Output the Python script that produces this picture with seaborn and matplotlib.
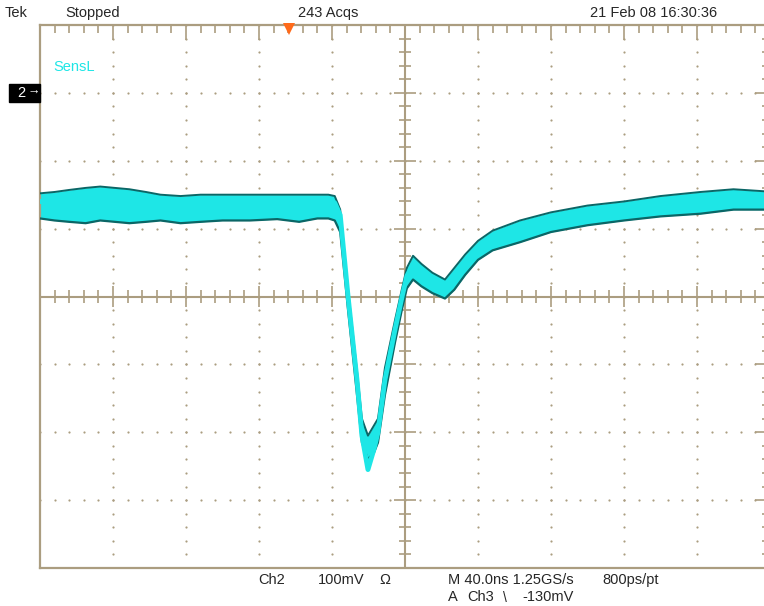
import numpy as np
import pandas as pd
import seaborn as sns
import matplotlib.pyplot as plt
from matplotlib.patches import Rectangle

## DATA (time in ns, Ch2 in mV)
time_ns = [0, 8, 16, 25, 33, 41, 49, 58, 66, 77, 88, 100, 115, 130, 142, 152, 158, 161.5,
           164.5, 168.8, 173.7, 176.4, 179.7, 183, 185.2, 189, 194.5, 198.4, 201, 204.4,
           209, 215, 221.9, 227, 233, 240, 248, 263, 280, 300, 320, 340, 362, 380, 397]
cyan_mid = [-160, -163, -158, -161, -157, -160, -159, -162, -160, -162, -160, -158, -160, -158,
            -161, -158, -160, -162, -180, -300, -423, -505, -555, -525, -500, -423, -349, -300,
            -270, -252, -262, -275, -286, -270, -250, -228, -213, -198, -184, -174, -167, -162,
            -158, -155, -155]
teal_hi = [-148, -146, -143, -140, -138, -140, -142, -146, -150, -152, -150, -150, -150, -150,
           -150, -150, -150, -152, -172, -290, -410, -480, -505, -490, -480, -405, -335, -288,
           -258, -240, -252, -265, -275, -258, -238, -218, -203, -188, -176, -166, -160, -152,
           -146, -142, -145]
teal_lo = [-185, -188, -190, -192, -188, -190, -192, -190, -188, -192, -190, -188, -188, -186,
           -190, -185, -185, -188, -205, -320, -445, -515, -540, -530, -515, -445, -368, -318,
           -288, -275, -285, -295, -303, -290, -268, -246, -232, -220, -205, -195, -188, -182,
           -178, -172, -172]

trigger_ns = 136.4

df = pd.DataFrame({"t": time_ns, "mid": cyan_mid, "hi": teal_hi, "lo": teal_lo})

## STYLE
sns.set_style("white")
plt.rcParams["font.family"] = ["Liberation Sans", "DejaVu Sans"]

TAN = "#ab9d80"
CYAN = "#1ee6e6"
TEAL = "#0b6666"
W, H = 764, 606

fig = plt.figure(figsize=(W / 100, H / 100), dpi=100)
ax = fig.add_axes([40 / W, 38 / H, 730 / W, 543 / H])
ax.set_xlim(0, 400)
ax.set_ylim(-700, 100)

# graticule dots
for gx in range(40, 400, 40):
    if gx == 200:
        continue
    ys = np.arange(-700, 101, 20)
    ax.scatter(np.full(len(ys), gx), ys, s=2.5, color=TAN, linewidths=0, zorder=1)
for gy in range(-600, 100, 100):
    if gy == -300:
        continue
    xs = np.arange(0, 401, 8)
    ax.scatter(xs, np.full(len(xs), gy), s=2.5, color=TAN, linewidths=0, zorder=1)

# center cross with ticks
ax.axvline(200, color=TAN, lw=1.5, zorder=1)
ax.axhline(-300, color=TAN, lw=1.5, zorder=1)
for yy in range(-700, 101, 20):
    half = 6 if yy % 100 == 0 else 3.3
    ax.hlines(yy, 200 - half, 200 + half, color=TAN, lw=1.2, zorder=1)
for xx in range(0, 401, 8):
    half = 16 if xx % 40 == 0 else 9
    ax.vlines(xx, -300 - half, -300 + half, color=TAN, lw=1.2, zorder=1)

# border ticks
ax.set_xticks(range(0, 401, 40))
ax.set_xticks(range(0, 401, 8), minor=True)
ax.set_yticks(range(-700, 101, 100))
ax.set_yticks(range(-700, 101, 20), minor=True)
ax.tick_params(which="major", direction="in", length=10.5, width=1.2, color=TAN,
               top=True, right=True, labelbottom=False, labelleft=False)
ax.tick_params(which="minor", direction="in", length=5.5, width=1.2, color=TAN,
               top=True, right=True)
for s in ax.spines.values():
    s.set_color(TAN)
    s.set_linewidth(1.6)

# waveform traces (overlaid acquisitions)
ax.fill_between(df["t"], df["lo"], df["hi"], color=CYAN, lw=0, zorder=2)
sns.lineplot(data=df, x="t", y="lo", ax=ax, color=TEAL, lw=1.6, zorder=3)
sns.lineplot(data=df, x="t", y="hi", ax=ax, color=TEAL, lw=1.4, zorder=3)
sns.lineplot(data=df, x="t", y="mid", ax=ax, color=CYAN, lw=3.5, zorder=4)
ax.set_xlabel("")
ax.set_ylabel("")

# trigger position marker
ax.plot([trigger_ns], [94], marker="v", ms=8, color="#ff6a1a", clip_on=False,
        markeredgewidth=0, zorder=6)

## TEXTS
def ftext(x, y, s, **kw):
    fig.text(x / W, 1 - y / H, s, va="center", ha="left", **kw)

ftext(5, 13, "Tek", fontsize=10.5)
ftext(65, 13, "Stopped", fontsize=10.5)
ftext(298, 13, "243 Acqs", fontsize=10.5)
ftext(590, 13, "21 Feb 08 16:30:36", fontsize=10.5)
ftext(53, 67, "SensL", fontsize=10.5, color=CYAN)

fig.patches.append(Rectangle((9 / W, 1 - 102 / H), 31 / W, 18 / H,
                             transform=fig.transFigure, color="black", zorder=5))
ftext(17, 93, "2", fontsize=10.5, color="white", zorder=6)
ftext(27, 92, "\u2192", fontsize=9, color="white", zorder=6)

ftext(258, 580, "Ch2", fontsize=10.5)
ftext(318, 580, "100mV", fontsize=10.5)
ftext(379, 580, "\u03a9", fontsize=10.5)
ftext(448, 580, "M 40.0ns 1.25GS/s", fontsize=10.5)
ftext(602, 580, "800ps/pt", fontsize=10.5)
ftext(448, 597, "A", fontsize=10.5)
ftext(467, 597, "Ch3", fontsize=10.5)
ftext(503, 598, "\\", fontsize=10)
ftext(522, 597, "-130mV", fontsize=10.5)

fig.savefig("out.png", dpi=100)
